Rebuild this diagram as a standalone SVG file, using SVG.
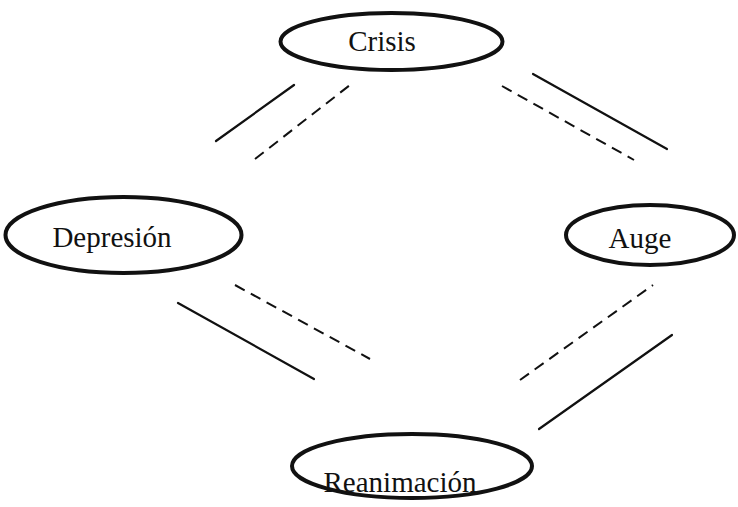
<svg xmlns="http://www.w3.org/2000/svg" width="738" height="507" viewBox="0 0 738 507">
<style>
.node ellipse{fill:#fff;stroke:#111;stroke-width:4}
.node text{font-family:"Liberation Serif","Times New Roman",serif;font-size:29px;fill:#111;text-anchor:middle}
.solid{stroke:#111;stroke-width:2.2;fill:none;stroke-linecap:round}
.dash{stroke:#111;stroke-width:2;fill:none;stroke-dasharray:11 7}
</style>
<rect width="738" height="507" fill="#fff"/>
<g id="connectors">
<line class="solid" x1="216" y1="141" x2="294" y2="85"/>
<line class="dash" x1="255" y1="159" x2="350" y2="85"/>
<line class="solid" x1="533" y1="74" x2="667" y2="149"/>
<line class="dash" x1="502" y1="86" x2="634" y2="160"/>
<line class="solid" x1="178" y1="303" x2="314" y2="379"/>
<line class="dash" x1="235" y1="285" x2="370" y2="359"/>
<line class="dash" x1="520" y1="380" x2="653" y2="285"/>
<line class="solid" x1="539" y1="429" x2="672" y2="335"/>
</g>
<g id="crisis" class="node">
<ellipse cx="391.5" cy="41.5" rx="111" ry="28.5"/>
<text x="382" y="51">Crisis</text>
</g>
<g id="depresion" class="node">
<ellipse cx="123.5" cy="235" rx="118" ry="38"/>
<text x="112" y="247">Depresión</text>
</g>
<g id="auge" class="node">
<ellipse cx="650" cy="235" rx="84" ry="30"/>
<text x="640" y="248">Auge</text>
</g>
<g id="reanimacion" class="node">
<ellipse cx="412" cy="466" rx="120" ry="32"/>
<text x="400" y="492">Reanimación</text>
</g>
</svg>
